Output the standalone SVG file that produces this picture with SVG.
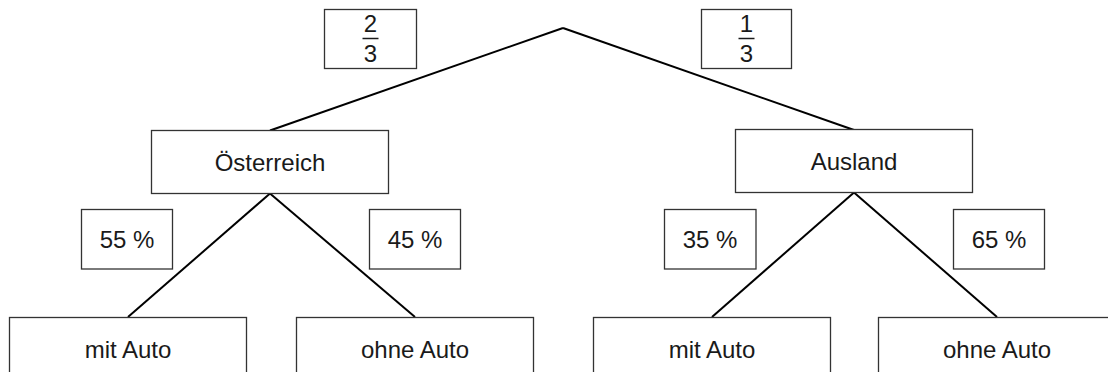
<svg xmlns="http://www.w3.org/2000/svg" width="1108" height="372" viewBox="0 0 1108 372">
<style>
.box{fill:#fff;stroke:#333;stroke-width:1.3}
.t{font-family:"Liberation Sans",Arial,sans-serif;font-size:24px;fill:#1a1a1a;text-anchor:middle}
.c{stroke:#000;stroke-width:2;fill:none}
.bar{stroke:#1a1a1a;stroke-width:1.5}
</style>
<rect width="1108" height="372" fill="#fff"/>
<g id="connectors">
<line class="c" x1="563" y1="28" x2="270" y2="130.5"/>
<line class="c" x1="563" y1="28" x2="854" y2="130"/>
<line class="c" x1="270" y1="193.5" x2="128" y2="317"/>
<line class="c" x1="270" y1="193.5" x2="415" y2="317"/>
<line class="c" x1="854" y1="192.5" x2="712" y2="317"/>
<line class="c" x1="854" y1="192.5" x2="997" y2="317"/>
</g>
<g id="p-oesterreich">
<rect class="box" x="324.5" y="9.5" width="92" height="59"/>
<text class="t" x="370.5" y="31.5">2</text>
<line class="bar" x1="362.5" y1="38.5" x2="378.5" y2="38.5"/>
<text class="t" x="370.5" y="61.5">3</text>
</g>
<g id="p-ausland">
<rect class="box" x="701.5" y="9.5" width="90" height="59"/>
<text class="t" x="746.5" y="31.5">1</text>
<line class="bar" x1="738.5" y1="38.5" x2="754.5" y2="38.5"/>
<text class="t" x="746.5" y="61.5">3</text>
</g>
<g id="oesterreich">
<rect class="box" x="151.5" y="130.5" width="237" height="63"/>
<text class="t" x="270" y="170.5">Österreich</text>
</g>
<g id="ausland">
<rect class="box" x="735.5" y="129.5" width="237" height="63"/>
<text class="t" x="854" y="169.5">Ausland</text>
</g>
<g id="p-oe-mit">
<rect class="box" x="81.5" y="209.5" width="91" height="59.5"/>
<text class="t" x="127" y="247.5">55 %</text>
</g>
<g id="p-oe-ohne">
<rect class="box" x="369.5" y="209.5" width="91" height="59.5"/>
<text class="t" x="415" y="247.5">45 %</text>
</g>
<g id="p-au-mit">
<rect class="box" x="664.5" y="209.5" width="91.5" height="59.5"/>
<text class="t" x="710" y="247.5">35 %</text>
</g>
<g id="p-au-ohne">
<rect class="box" x="953.5" y="209.5" width="91" height="59.5"/>
<text class="t" x="999" y="247.5">65 %</text>
</g>
<g id="oe-mit">
<rect class="box" x="9.5" y="317.5" width="237" height="63"/>
<text class="t" x="128" y="357.5">mit Auto</text>
</g>
<g id="oe-ohne">
<rect class="box" x="296.5" y="317.5" width="237" height="63"/>
<text class="t" x="415" y="357.5">ohne Auto</text>
</g>
<g id="au-mit">
<rect class="box" x="593.5" y="317.5" width="237" height="63"/>
<text class="t" x="712" y="357.5">mit Auto</text>
</g>
<g id="au-ohne">
<rect class="box" x="878.5" y="317.5" width="237" height="63"/>
<text class="t" x="997" y="357.5">ohne Auto</text>
</g>
</svg>
